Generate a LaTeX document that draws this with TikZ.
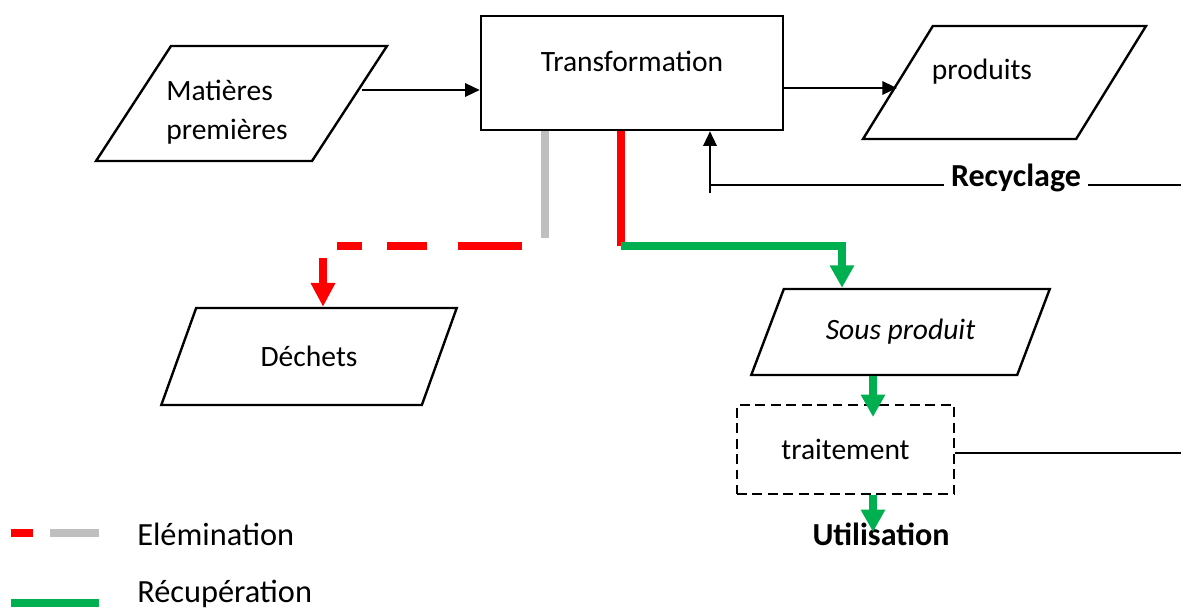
\documentclass[tikz,border=0pt]{standalone}
\usepackage{fontspec}
\setmainfont{Carlito}
\usetikzlibrary{arrows.meta,shapes.geometric}

\definecolor{rouge}{RGB}{255,0,0}
\definecolor{gris}{RGB}{191,191,191}
\definecolor{vert}{RGB}{0,176,80}

\begin{document}
\begin{tikzpicture}[x=0.025cm,y=-0.025cm,
    font=\fontsize{21}{26}\selectfont,
    boite/.style={draw,line width=1.7pt,inner sep=0pt},
    para/.style={draw,line width=1.7pt,trapezium,trapezium stretches=true,inner sep=2pt},
    titre/.style={font=\fontsize{22.8}{27}\selectfont\bfseries},
    noir/.style={line width=1.7pt},
    fleche/.style={line width=1.7pt,-{Triangle[length=10.5pt,width=9.5pt]}},
    elimR/.style={rouge,line width=5pt},
    elimG/.style={gris,line width=5pt},
    recupR/.style={rouge,line width=5pt},
    recupV/.style={vert,line width=5pt},
    flecheR/.style={rouge,line width=5.7pt,-{Triangle[length=17pt,width=16.5pt]}},
    flecheV/.style={vert,line width=5pt,-{Triangle[length=16pt,width=16.5pt]}}]
    \useasboundingbox (0,0) rectangle (1181,612);
    % boites =================================================
    \node[para,trapezium left angle=62,trapezium right angle=118,minimum width=7.275cm,minimum height=2.875cm] (mp) at (241.5,103.5) {};
    \node[align=left,font=\fontsize{21}{28}\selectfont] (mptxt) at (227,112) {Matières\\premières};
    \node[boite,minimum width=7.55cm,minimum height=2.85cm] (tr) at (632,73) {};
    \node (trtxt) at (632,61) {Transformation};
    \node[para,trapezium left angle=64,trapezium right angle=116,minimum width=7.075cm,minimum height=2.825cm] (prod) at (1004.5,82.5) {};
    \node (prodtxt) at (982,72) {produits};
    \node[para,trapezium left angle=59,trapezium right angle=121,minimum width=7.45cm,minimum height=2.425cm] (dech) at (309,356.5) {Déchets};
    \node[para,trapezium left angle=55,trapezium right angle=125,minimum width=7.475cm,minimum height=2.15cm,font=\fontsize{21}{26}\selectfont\itshape] (sp) at (900.5,332) {Sous produit};
    \node[boite,line width=2pt,dash pattern=on 7pt off 4pt,minimum width=5.425cm,minimum height=2.225cm] (trait) at (845.5,449.5) {traitement};
    \node[titre,inner xsep=5pt] (recy) at (1016,178) {Recyclage};
    \node[titre] (util) at (881,534) {Utilisation};
    % points libres ==========================================
    \coordinate (mpout)  at (362,90);
    \coordinate (prodin) at (897,88);
    \coordinate (recyD)  at (1181,185);
    \coordinate (recyG)  at (710,185);
    \coordinate (recyB)  at (710,193);
    \coordinate (grisB)  at (545,238);
    \coordinate (rougeD) at (522,246);
    \coordinate (rougeG) at (337,246);
    \coordinate (dechin) at (323,258);
    \coordinate (coude)  at (621,246);
    \coordinate (spin)   at (842,246);
    \coordinate (colV)   at (873,0);
    \coordinate (traitin) at (873,417);
    \coordinate (utilin) at (873,532);
    \coordinate (traitD) at (1181,453);
    % fleches ================================================
    \draw[fleche] (mpout) -- (mpout -| tr.west);
    \draw[fleche] (tr.east |- prodin) -- (prodin);
    \draw[noir] (recyD) -- (recy.east |- recyD);
    \draw[noir] (recy.west |- recyD) -- (recyG);
    \draw[fleche] (recyB) -- (recyB |- tr.south);
    % elimination
    \draw[elimG] (tr.south -| grisB) -- (grisB);
    \draw[elimR,dash pattern=on 45.5pt off 22pt on 28.4pt off 17.8pt on 18pt off 20pt] (rougeD) -- (rougeG);
    \draw[flecheR] (dechin) -- (dechin |- dech.north);
    % recuperation
    \draw[recupR] (tr.south -| coude) -- (coude);
    \draw[flecheV] (coude) -- (spin) -- (spin |- sp.north);
    \draw[flecheV] (sp.south -| colV) -- (traitin);
    \draw[noir] (trait.east |- traitD) -- (traitD);
    \draw[flecheV] (trait.south -| colV) -- (utilin);
    % legende ================================================
    \node[anchor=west,inner xsep=0pt,font=\fontsize{23}{28}\selectfont] (legE) at (137,534) {Elémination};
    \node[anchor=west,inner xsep=0pt,font=\fontsize{23}{28}\selectfont] (legR) at (137,594) {Récupération};
    \draw[elimR] (11,533) -- (33,533);
    \draw[elimG] (50,533) -- (99,533);
    \draw[recupV] (11,603) -- (99,603);
\end{tikzpicture}
\end{document}
